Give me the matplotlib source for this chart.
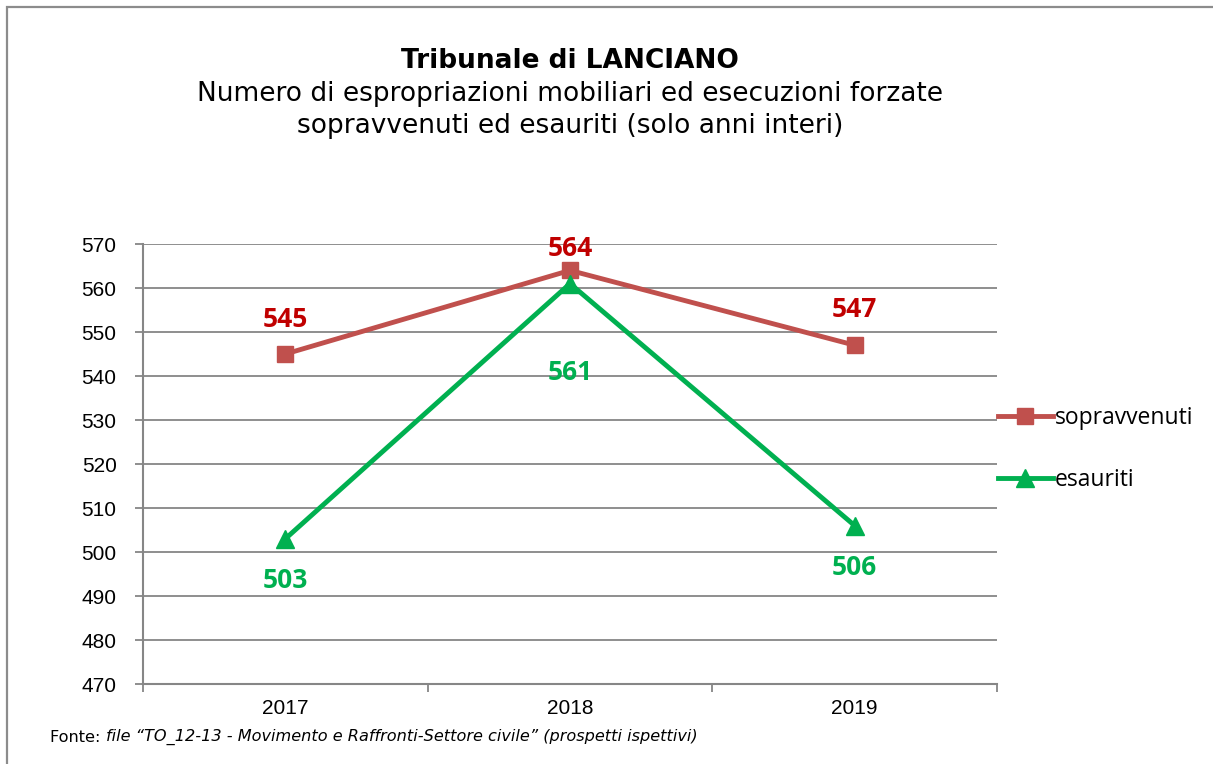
import matplotlib
matplotlib.use("Agg")
import matplotlib.pyplot as plt
from matplotlib.patches import Rectangle

years = ["2017", "2018", "2019"]
sopravvenuti = [545, 564, 547]
esauriti = [503, 561, 506]
yticks = [470, 480, 490, 500, 510, 520, 530, 540, 550, 560, 570]
# label offsets in points (positive = above)
sop_off = [25, 16, 26]
esa_off = [-30, -64, -30]

fig = plt.figure(figsize=(12.13, 7.64), dpi=100)
fig.patch.set_facecolor("white")

# outer border
fig.add_artist(Rectangle((7/1213, -0.01), 1.02, 1 - 7/764 + 0.01, transform=fig.transFigure,
                         fill=False, edgecolor="#8c8c8c", linewidth=1.6))

ax = fig.add_axes([143/1213, 1 - 684/764, (997-143)/1213, (684-244)/764])
x = list(range(len(years)))
grid_c = "#868686"

ax.set_ylim(470, 570)
ax.set_xlim(-0.5, 2.5)
ax.set_yticks(yticks)
ax.set_yticklabels([str(v) for v in yticks], fontfamily="Liberation Sans", fontsize=15)
ax.yaxis.grid(True, color=grid_c, linewidth=1.3)
ax.set_axisbelow(True)
ax.set_xticks([-0.5, 0.5, 1.5, 2.5])
ax.set_xticklabels([])
ax.set_xticks(x, minor=True)
ax.set_xticklabels(years, minor=True, fontfamily="Liberation Sans", fontsize=15)
ax.tick_params(axis="x", which="major", length=6, color=grid_c, width=1.3)
ax.tick_params(axis="x", which="minor", length=0, pad=11)
ax.tick_params(axis="y", length=6, color=grid_c, width=1.3, pad=13)
for s in ["top", "right"]:
    ax.spines[s].set_visible(False)
for s in ["left", "bottom"]:
    ax.spines[s].set_color(grid_c)
    ax.spines[s].set_linewidth(1.5)

l1, = ax.plot(x, sopravvenuti, color="#C0504D", linewidth=3.5, marker="s", markersize=12,
              label="sopravvenuti", zorder=3)
l2, = ax.plot(x, esauriti, color="#00B050", linewidth=3.5, marker="^", markersize=13,
              label="esauriti", zorder=4)

for xi, v, o in zip(x, sopravvenuti, sop_off):
    ax.annotate(str(v), (xi, v), xytext=(0, o), textcoords="offset points", ha="center",
                va="center", color="#C00000", fontsize=19, fontweight="bold", fontfamily="Open Sans")
for xi, v, o in zip(x, esauriti, esa_off):
    ax.annotate(str(v), (xi, v), xytext=(0, o), textcoords="offset points", ha="center",
                va="center", color="#00B050", fontsize=19, fontweight="bold", fontfamily="Open Sans")

fig.legend(handles=[l1, l2], loc="center left", bbox_to_anchor=(977/1213, 1 - 449/764),
           frameon=False, prop={"family": "Open Sans", "size": 16.5}, handlelength=2.4,
           handletextpad=0.1, labelspacing=1.65)

fig.text(570/1213, 1 - 61/764, "Tribunale di LANCIANO", ha="center", va="center",
         fontsize=19, fontweight="bold", fontfamily="DejaVu Sans")
fig.text(570/1213, 1 - 110/764,
         "Numero di espropriazioni mobiliari ed esecuzioni forzate\nsopravvenuti ed esauriti (solo anni interi)",
         ha="center", va="center", fontsize=19, fontfamily="DejaVu Sans", linespacing=1.3)

t1 = fig.text(50/1213, 1 - 737/764, "Fonte: ", ha="left", va="center", fontsize=11.6,
              fontfamily="DejaVu Sans")
fig.canvas.draw()
bb = t1.get_window_extent(fig.canvas.get_renderer())
fig.text(bb.x1/1213, 1 - 737/764,
         "file \u201cTO_12-13 - Movimento e Raffronti-Settore civile\u201d (prospetti ispettivi)",
         ha="left", va="center", fontsize=11.6, fontstyle="italic", fontfamily="DejaVu Sans")

fig.savefig("out.png", dpi=100)
